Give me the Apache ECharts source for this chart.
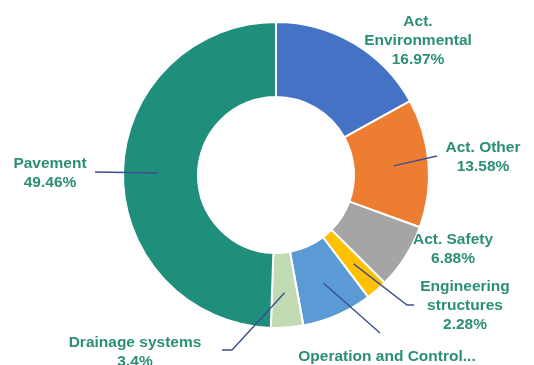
<!DOCTYPE html>
<html>
<head>
<meta charset="utf-8">
<script src="https://cdn.jsdelivr.net/npm/echarts@6/dist/echarts.min.js"></script>
<style>
  html, body { margin: 0; padding: 0; background: #fff; }
  #chart { width: 534px; height: 365px; }
</style>
</head>
<body>
<div id="chart"></div>
<script>
// Cost share by asset category (percent of total)
const categories = [
  'Act.\nEnvironmental',
  'Act. Other',
  'Act. Safety',
  'Engineering\nstructures',
  'Operation and Control...',
  'Drainage systems',
  'Pavement'
];
const shares = [16.97, 13.58, 6.88, 2.28, 7.43, 3.4, 49.46];
const sliceColors = ['#4472C4', '#ED7D31', '#A5A5A5', '#FFC000', '#5B9BD5', '#C3DBB3', '#1F8E7B'];

// Ring geometry
const CX = 276, CY = 175, R_IN = 78, R_OUT = 153, R_POINTER = 118;

// Where each label block sits and the bend of its leader line (null = no line)
const labelSpots = [
  { x: 418, y: 41, bend: null },
  { x: 483, y: 157, bend: [[437, 156]] },
  { x: 453, y: 249, bend: null },
  { x: 465, y: 306, bend: [[407, 305], [414, 305]] },
  { x: 387, y: 366, bend: [[380, 333]] },
  { x: 135, y: 352, bend: [[232, 350], [222, 350]] },
  { x: 50, y: 173, bend: [[95, 172]] }
];

// Mid-angle point of each slice on the pointer radius, from the data
const total = shares.reduce((a, b) => a + b, 0);
const pointerAnchors = [];
let cum = 0;
shares.forEach(v => {
  const frac = (cum + v / 2) / total;
  const ang = frac * Math.PI * 2;
  pointerAnchors.push([CX + R_POINTER * Math.sin(ang), CY - R_POINTER * Math.cos(ang)]);
  cum += v;
});

const ringBase = {
  type: 'pie',
  center: [CX, CY],
  radius: [R_IN, R_OUT],
  startAngle: 90,
  clockwise: true,
  avoidLabelOverlap: false
};

const chart = echarts.init(document.getElementById('chart'), null, { renderer: 'canvas' });

chart.setOption({
  backgroundColor: '#ffffff',
  animation: false,
  series: [
    // the coloured ring
    Object.assign({}, ringBase, {
      z: 2,
      itemStyle: { borderColor: '#ffffff', borderWidth: 2 },
      label: { show: false },
      labelLine: { show: false },
      data: categories.map((name, i) => ({
        name: name,
        value: shares[i],
        itemStyle: { color: sliceColors[i] }
      }))
    }),
    // labels and leader lines, drawn over the ring
    Object.assign({}, ringBase, {
      z: 5,
      silent: true,
      itemStyle: { color: 'rgba(0,0,0,0)' },
      data: categories.map((name, i) => ({
        name: name,
        value: shares[i],
        labelLine: { show: labelSpots[i].bend !== null }
      })),
      label: {
        show: true,
        formatter: p => p.name + '\n' + p.value + '%',
        fontFamily: '"Liberation Sans", Arial, sans-serif',
        fontWeight: 'bold',
        fontSize: 15.5,
        lineHeight: 19,
        color: '#2B8F77',
        align: 'center'
      },
      labelLine: {
        show: true,
        lineStyle: { color: '#3D4F94', width: 1.4 }
      },
      labelLayout: function (params) {
        const i = params.dataIndex;
        const spot = labelSpots[i];
        const out = {
          x: spot.x,
          y: spot.y,
          align: 'center',
          verticalAlign: 'middle'
        };
        if (spot.bend) {
          out.labelLinePoints = [pointerAnchors[i]].concat(spot.bend);
        }
        return out;
      }
    })
  ]
});
</script>
</body>
</html>
